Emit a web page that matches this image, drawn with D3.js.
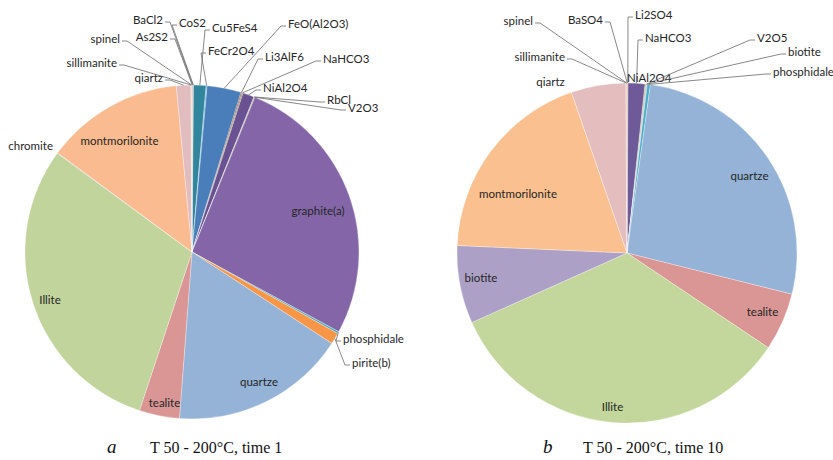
<!DOCTYPE html>
<html><head><meta charset="utf-8">
<script src="https://cdn.jsdelivr.net/npm/d3@7"></script>
<style>body{margin:0;background:#fff;overflow:hidden}</style>
</head><body>
<svg id="chart" width="833" height="460"></svg>
<script>
// ---------- data: chart a (T 50 - 200°C, time 1) ----------
const catsA = ["As2S2","BaCl2","CoS2","Cu5FeS4","FeCr2O4","FeO(Al2O3)","Li3AlF6","NaHCO3","NiAl2O4","RbCl","V2O3","graphite(a)","phosphidale","pirite(b)","quartze","tealite","Illite","chromite","montmorilonite","qiartz","sillimanite","spinel"];
const valsA = [0.05,0.05,0.05,1.2,0.1,3.3,0.1,0.1,1.1,0.05,0.05,26.8,0.2,1.1,17.0,3.9,30.0,0.05,13.4,1.4,0.05,0.05];
// ---------- data: chart b (T 50 - 200°C, time 10) ----------
const catsB = ["BaSO4","Li2SO4","NaHCO3","NiAl2O4","V2O5","biotite","phosphidale","quartze","tealite","Illite","biotite","montmorilonite","qiartz","sillimanite","spinel"];
const valsB = [0.05,0.05,1.6,0.1,0.05,0.05,0.3,26.7,5.5,33.9,7.4,19.0,5.2,0.05,0.05];
const captionA = ["a", "T 50 - 200°C, time 1"];
const captionB = ["b", "T 50 - 200°C, time 10"];

// ---------- styles ----------
const colorsA = ["#4F81BD","#C0504D","#9BBB59","#31859C","#4BACC6","#4A7EBB","#8C3836","#71893F","#6A5192","#357D91","#B66D31","#8466A8","#4BACC6","#F79646","#95B3D7","#D99694","#C0D49B","#B3A2C7","#F9BB8F","#E2BDBF","#93CDDD","#FAC090"];
const colorsB = ["#4F81BD","#C0504D","#6F5A99","#9BBB59","#8064A2","#B3A2C7","#4BACC6","#95B3D7","#D99694","#C3D69B","#ADA0C6","#FAC090","#E4BEBF","#93CDDD","#F79646"];

// ---------- label layout: [x, y, anchor, leader] ----------
const layoutA = [
  [168,37,"end",true],[163,20,"end",true],[179,23,"start",true],[212,28,"start",true],
  [208,51,"start",true],[288,24,"start",true],[265,57,"start",true],[323,59,"start",true],
  [263,88,"start",true],[327,100,"start",true],[348,108,"start",true],[318,211,"middle",false],
  [343,339,"start",true],[352,363,"start",true],[259,382,"middle",false],[164.5,403,"middle",false],
  [50,300,"middle",false],[53,146,"end",false],[119.5,141,"middle",false],[163,78,"end",true],
  [117,63,"end",true],[120,39,"end",true]
];
const layoutB = [
  [603,20,"end",true],[635,15,"start",true],[645,38,"start",true],[627,78,"start",false],
  [757,38,"start",true],[788,52,"start",true],[773,72,"start",true],[749.5,176,"middle",false],
  [762.5,312,"middle",false],[612.5,407,"middle",false],[481,278,"middle",false],[518,194,"middle",false],
  [550.5,82,"middle",false],[565,57,"end",true],[533,21,"end",true]
];

const svg = d3.select("#chart");

function drawPie(cats, vals, colors, layout, cx, cy, r) {
  const data = cats.map((c, i) => ({name: c, value: vals[i], i}));
  const pie = d3.pie().value(d => d.value).sort(null);
  const arcs = pie(data);
  const arc = d3.arc().innerRadius(0).outerRadius(r);
  const g = svg.append("g").attr("transform", `translate(${cx},${cy})`);
  g.selectAll("path").data(arcs).join("path")
    .attr("d", arc)
    .attr("fill", d => colors[d.data.i])
    .attr("stroke", "#ffffff").attr("stroke-width", 0.5).attr("stroke-opacity", 0.6);

  const lg = svg.append("g");
  arcs.forEach(a => {
    const [x, y, anchor, leader] = layout[a.data.i];
    if (leader) {
      const mid = (a.startAngle + a.endAngle) / 2;
      const px = cx + r * Math.sin(mid), py = cy - r * Math.cos(mid);
      const ex = anchor === "end" ? x + 2 : x - 2;
      const bx = anchor === "end" ? x + 7 : x - 7;
      const ly = y + 2;
      lg.append("path")
        .attr("d", `M${ex},${ly}L${bx},${ly}L${px},${py}`)
        .attr("fill", "none").attr("stroke", "#6a6a6a").attr("stroke-width", 0.8);
    }
    lg.append("text")
      .attr("x", x).attr("y", y).attr("dy", "0.35em")
      .attr("text-anchor", anchor)
      .attr("font-family", "Lato, 'Noto Sans', sans-serif")
      .attr("font-size", 11.5)
      .attr("fill", "#262626")
      .text(a.data.name);
  });
}

drawPie(catsA, valsA, colorsA, layoutA, 192, 252, 167);
drawPie(catsB, valsB, colorsB, layoutB, 627, 253, 170);

function caption(c, lx, tx) {
  svg.append("text").attr("x", lx).attr("y", 453)
    .attr("font-family", "'Liberation Serif', 'Times New Roman', serif")
    .attr("font-style", "italic").attr("font-size", 19).attr("fill", "#111")
    .text(c[0]);
  svg.append("text").attr("x", tx).attr("y", 453)
    .attr("font-family", "'Liberation Serif', 'Times New Roman', serif")
    .attr("font-size", 16).attr("fill", "#111")
    .text(c[1]);
}
caption(captionA, 107, 150);
caption(captionB, 543, 583);
</script>
</body></html>
